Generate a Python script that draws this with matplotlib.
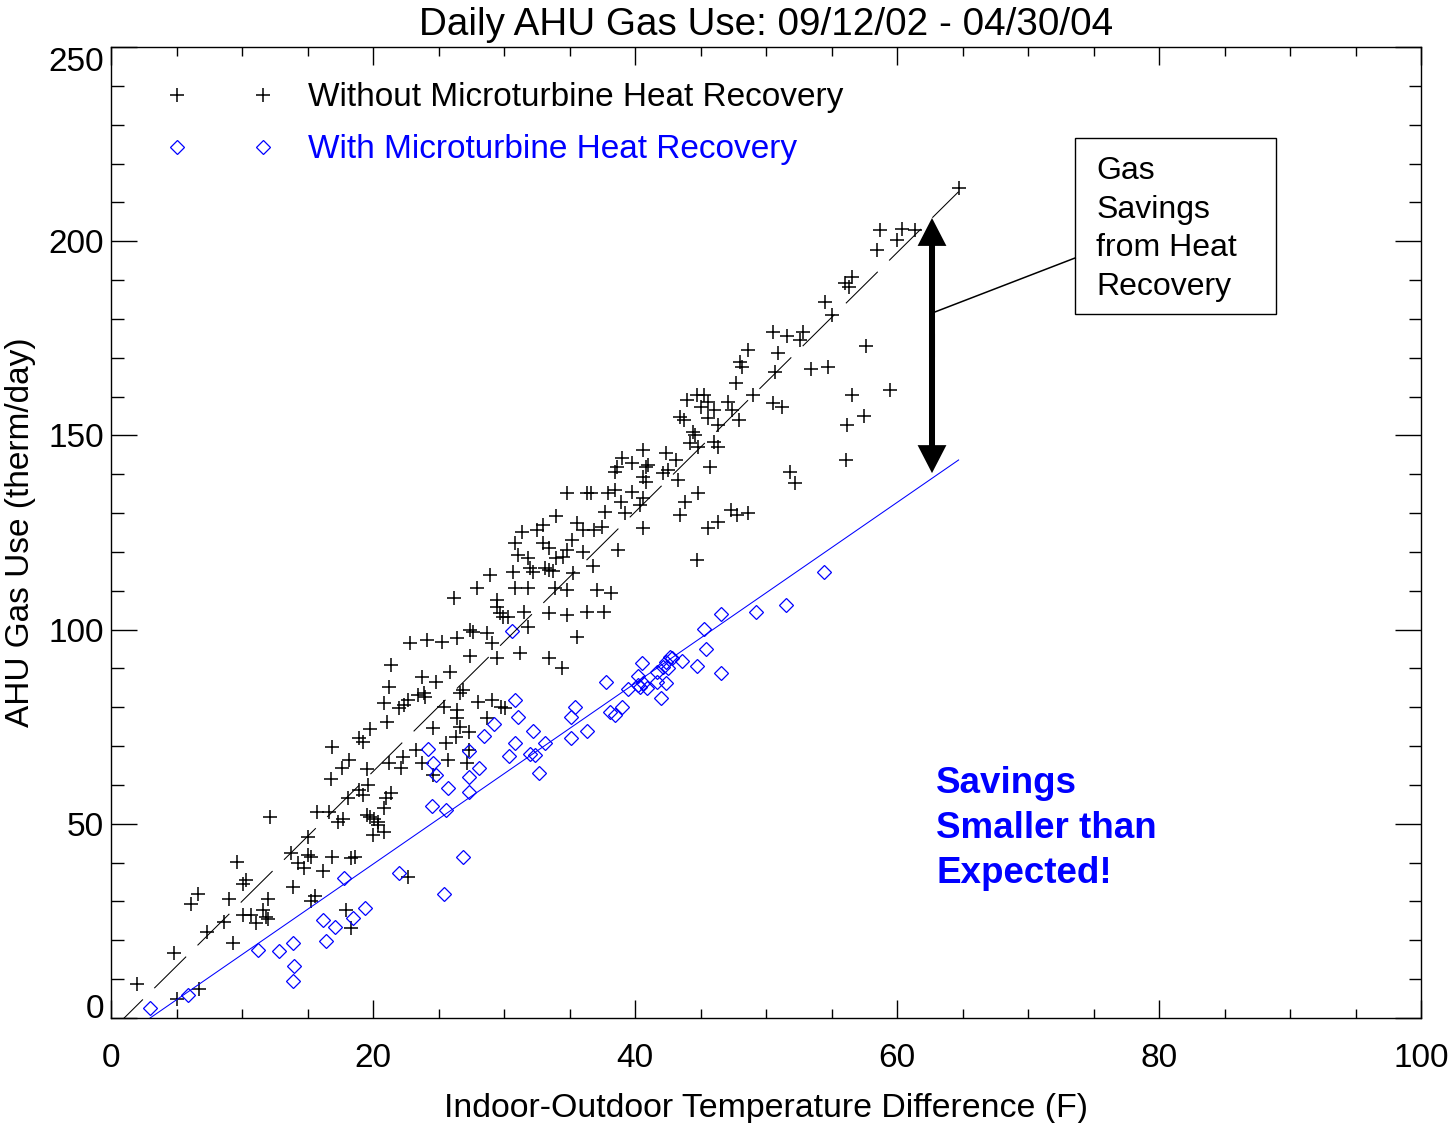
import matplotlib
matplotlib.use('Agg')  # no display
import matplotlib.pyplot as plt
import matplotlib.patches as patches
import numpy as np

plt.rcParams['font.family'] = ['Liberation Sans', 'DejaVu Sans']

# Daily AHU gas use (therm/day) vs indoor-outdoor temperature difference (F)
# without microturbine heat recovery
no_hr_dt = [
    2.0, 5.0, 6.7, 4.8, 7.3, 9.3, 8.6, 6.1, 6.6, 9.0, 9.6, 10.1, 10.3, 10.1, 10.7,
    11.1, 11.6, 11.8, 12.0, 12.0, 12.1, 13.9, 13.7, 14.3, 14.7, 15.0, 15.3, 15.0,
    15.3, 15.6, 15.7, 16.6, 16.2, 16.9, 16.8, 16.9, 17.3, 17.7, 17.6, 18.2, 18.3,
    18.6, 17.9, 18.3, 18.1, 18.9, 18.9, 19.2, 19.2, 19.5, 19.8, 20.1, 20.4, 19.5,
    19.6, 19.8, 20.0, 20.4, 20.8, 20.8, 21.0, 21.4, 20.8, 21.1, 21.2, 21.2, 22.1,
    22.3, 22.0, 22.4, 22.7, 22.7, 23.3, 23.7, 23.4, 23.9, 24.0, 24.6, 24.6, 24.8,
    25.4, 25.6, 25.7,
    34.8, 36.3, 36.6, 37.9, 38.5, 38.9, 39.8, 37.7, 39.2, 34.0, 33.0, 32.5, 31.4,
    35.6, 36.0, 36.9, 37.5, 35.2, 30.8, 33.0, 33.4, 34.8, 36.0, 38.7, 31.1, 31.8,
    34.0, 34.5, 33.1, 33.4, 33.7, 32.2, 32.0, 30.7, 28.9, 35.3, 36.8, 27.9, 30.8,
    31.8, 33.9, 34.8, 37.1, 38.2, 26.2, 29.5, 29.5, 29.7, 29.9, 30.3, 31.5, 33.4,
    34.8, 36.3, 37.6, 31.8, 27.4, 27.6, 28.7, 22.8, 24.1, 25.3, 26.4, 29.1, 35.6,
    27.4, 29.5, 31.2, 33.4, 34.4, 21.4, 25.9, 23.7, 26.9, 26.6, 28.0, 29.1, 29.8,
    30.1, 26.4, 26.4, 26.6, 28.7, 27.3, 26.3, 27.3, 27.2,
    50.5, 51.6, 52.6, 52.8, 48.6, 48.0, 48.2, 50.9, 50.7, 53.4, 47.7, 49.0, 44.0,
    44.7, 45.3, 45.6, 46.0, 45.0, 47.1, 47.4, 50.5, 51.2, 43.4, 43.7, 45.6, 46.3,
    47.9, 44.4, 44.6, 44.2, 44.8, 46.0, 46.3, 45.7, 51.8, 52.2, 40.6, 42.4, 43.1,
    39.0, 38.6, 38.5, 39.8, 40.8, 41.0, 40.6, 40.8, 42.1, 42.5, 43.3, 44.8, 43.8,
    43.4, 47.3, 47.8, 48.6, 45.6, 46.3, 40.6, 44.7, 40.6, 40.4,
    64.7, 58.7, 60.4, 61.4, 60.0, 58.5, 56.0, 56.3, 56.6, 54.5, 55.0, 57.6, 54.7,
    56.6, 59.5, 57.5, 56.2, 56.1,
]
no_hr_gas = [
    8.8, 4.9, 7.5, 16.7, 22.1, 19.3, 24.7, 29.4, 31.9, 30.6, 40.2, 34.5, 35.5, 26.5,
    26.5, 24.5, 27.8, 26.0, 25.5, 30.6, 51.8, 33.7, 42.5, 39.9, 38.6, 42.0, 41.5,
    46.6, 30.1, 31.4, 53.0, 53.0, 37.8, 41.5, 61.5, 69.8, 50.5, 51.2, 64.4, 66.4,
    41.2, 41.5, 27.8, 23.2, 56.6, 58.7, 72.1, 71.1, 57.4, 52.3, 51.8, 51.2, 50.5,
    64.1, 60.0, 74.4, 47.1, 49.7, 47.9, 54.1, 56.6, 57.9, 81.1, 76.2, 85.2, 65.7,
    64.4, 67.2, 79.8, 80.6, 81.9, 36.3, 69.0, 65.7, 83.2, 83.7, 82.6, 74.7, 62.6,
    86.5, 80.1, 70.8, 66.4,
    135.2, 135.2, 135.2, 135.2, 135.9, 132.9, 135.4, 130.3, 130.0, 129.3, 126.9,
    125.6, 125.1, 127.4, 125.6, 125.6, 126.4, 123.1, 122.3, 122.3, 121.0, 120.5,
    120.0, 120.5, 119.2, 118.4, 118.4, 118.7, 115.9, 115.3, 115.1, 114.8, 115.9,
    114.8, 114.1, 114.6, 116.4, 110.7, 110.7, 110.7, 110.7, 110.2, 110.2, 109.4,
    108.1, 107.6, 105.8, 104.3, 103.2, 103.2, 104.5, 104.3, 103.8, 104.5, 104.5,
    100.7, 99.9, 99.4, 99.1, 96.5, 97.3, 96.8, 97.8, 96.5, 98.1, 93.2, 92.7, 94.0,
    92.7, 90.1, 90.9, 89.1, 87.8, 84.4, 83.7, 81.4, 81.9, 80.1, 79.8, 79.3, 77.2,
    74.9, 77.2, 73.6, 72.3, 69.0, 65.7,
    176.6, 175.6, 174.6, 176.6, 172.0, 168.9, 167.6, 171.2, 166.3, 167.1, 163.5,
    160.4, 159.1, 160.4, 160.4, 158.6, 156.5, 157.3, 158.6, 156.5, 158.3, 157.3,
    154.7, 154.0, 154.5, 152.7, 154.0, 150.9, 150.1, 148.0, 147.0, 148.3, 147.0,
    141.9, 140.6, 137.7, 146.2, 145.5, 143.7, 144.2, 141.9, 140.6, 142.9, 141.9,
    142.4, 139.3, 138.0, 140.3, 141.1, 138.5, 135.2, 132.9, 129.5, 130.8, 129.5,
    130.0, 126.2, 127.7, 126.2, 117.9, 133.9, 132.1,
    213.7, 202.9, 203.1, 202.9, 200.3, 197.7, 189.2, 188.2, 190.8, 184.3, 181.0,
    173.0, 167.6, 160.4, 161.7, 155.0, 152.7, 143.7,
]

# with microturbine heat recovery
hr_dt = [
    3.0, 5.9, 11.2, 12.8, 13.9, 14.0, 13.9, 17.8, 16.2, 16.4, 17.1, 18.5, 19.4,
    22.0, 25.4, 24.5, 25.6, 24.2, 24.6, 24.8, 25.7,
    30.6, 30.8, 31.1, 29.2, 28.5, 27.3, 28.1, 27.3, 27.3, 26.9, 32.2, 30.8, 30.4,
    32.0, 32.4, 33.1, 32.7, 35.4, 35.1, 35.1, 36.3, 37.8, 38.1, 38.5, 39.0, 40.5,
    39.5, 40.2, 40.2, 40.4, 40.6, 40.9, 41.7, 42.4, 42.0, 41.7, 42.1, 42.4, 42.7,
    42.8, 42.5, 43.6, 44.7, 45.3, 45.4, 46.6, 46.6, 49.2, 54.4, 51.5,
]
hr_gas = [
    2.6, 5.9, 17.5, 17.3, 19.3, 13.4, 9.5, 36.0, 25.2, 19.8, 23.4, 25.7, 28.3,
    37.3, 31.9, 54.6, 53.6, 69.3, 65.7, 62.6, 59.2,
    99.6, 81.9, 77.5, 75.7, 72.6, 68.7, 64.4, 62.1, 58.2, 41.5, 73.9, 70.8, 67.5,
    68.0, 67.7, 70.8, 63.1, 80.1, 77.5, 72.1, 73.9, 86.5, 78.8, 78.0, 80.1, 91.4,
    84.7, 88.1, 85.7, 85.2, 86.2, 85.0, 86.5, 86.2, 82.4, 89.1, 90.4, 91.7, 92.9,
    92.7, 90.1, 91.9, 90.6, 100.2, 95.0, 104.0, 88.8, 104.5, 114.8, 106.3,
]

# linear fits (slope, intercept), drawn over the range of the data
no_hr_fit = (3.34, -3.34)
hr_fit = (2.328, -6.94)
fit_range = (0.0, 64.7)

# annotation geometry (data units)
arrow_x, arrow_lo, arrow_hi = 62.67, 140.3, 206.0
box_x, box_y, box_w, box_h = 73.6, 181.3, 15.3, 45.3

fig = plt.figure(figsize=(14.5, 11.23), dpi=100)
ax = fig.add_axes([0.0766, 0.0935, 0.9034, 0.8646])

ax.plot(no_hr_dt, no_hr_gas, linestyle='none', marker='+', ms=10, mew=1.1,
        color='black', label='Without Microturbine Heat Recovery')
ax.plot(hr_dt, hr_gas, linestyle='none', marker='D', ms=7.1, mew=0.9,
        mfc='none', mec='blue', label='With Microturbine Heat Recovery')

xf = np.array(fit_range)
ax.plot(xf, no_hr_fit[0] * xf + no_hr_fit[1], color='black', lw=0.75,
        dashes=(43, 15.4))
ax.plot(xf, hr_fit[0] * xf + hr_fit[1], color='blue', lw=0.75)

# axes, IDL style ticks
ax.set_xlim(0, 100)
ax.set_ylim(0, 250)
ax.set_xticks(np.arange(0, 101, 20))
ax.set_xticks(np.arange(0, 101, 5), minor=True)
ax.set_yticks(np.arange(0, 251, 50))
ax.set_yticks(np.arange(0, 251, 10), minor=True)
ax.tick_params(which='both', direction='in', top=True, right=True, width=1.0,
               labelsize=24)
ax.tick_params(axis='x', which='major', length=13, pad=18)
ax.tick_params(axis='x', which='minor', length=6.5)
ax.tick_params(axis='y', which='major', length=18.7, pad=5)
ax.tick_params(axis='y', which='minor', length=9)
for s in ax.spines.values():
    s.set_linewidth(1.0)

yticks = ax.yaxis.get_major_ticks()
yticks[0].label1.set_va('baseline')
yticks[-1].label1.set_va('top')

ax.set_title('Daily AHU Gas Use: 09/12/02 - 04/30/04', fontsize=27.8, pad=9)
ax.set_xlabel('Indoor-Outdoor Temperature Difference (F)', fontsize=24.4,
              labelpad=14)
ax.set_ylabel('AHU Gas Use (therm/day)', fontsize=24, labelpad=9)

ax.legend(loc='upper left', bbox_to_anchor=(0.0427, 0.9635), numpoints=2,
          handlelength=3.18, handletextpad=1.05, labelspacing=0.63,
          frameon=False, fontsize=24, borderpad=0, borderaxespad=0,
          labelcolor='markeredgecolor')

# double headed arrow marking the savings
mid = (arrow_lo + arrow_hi) / 2
ax.arrow(arrow_x, mid - 3, 0, arrow_hi - mid + 3, width=0.46, head_width=2.2,
         head_length=7.2, length_includes_head=True, color='black', lw=0)
ax.arrow(arrow_x, mid + 3, 0, arrow_lo - mid - 3, width=0.46, head_width=2.2,
         head_length=7.2, length_includes_head=True, color='black', lw=0)

ax.add_patch(patches.Rectangle((box_x, box_y), box_w, box_h, fill=False,
                               lw=1.0, ec='black'))
ax.text(box_x + 1.6, box_y + box_h / 2 - 0.8, 'Gas\nSavings\nfrom Heat\nRecovery',
        fontsize=23, va='center', ha='left', linespacing=1.38)
ax.plot([arrow_x, box_x], [181.5, 195.7], color='black', lw=1.1)

ax.text(63.0, 48.7, 'Savings\nSmaller than\nExpected!', color='blue',
        fontweight='bold', fontsize=26.5, va='center', ha='left',
        linespacing=1.37)

fig.savefig('out.png', dpi=100)
